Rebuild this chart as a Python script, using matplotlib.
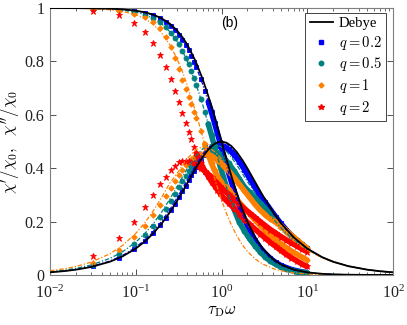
import matplotlib
matplotlib.use('Agg')
import matplotlib.pyplot as plt
import numpy as np
from matplotlib.lines import Line2D

plt.rcParams['font.family'] = ['Liberation Serif', 'DejaVu Serif']
plt.rcParams['mathtext.fontset'] = 'cm'

# ---------------- data ----------------
omega = [0.032, 0.064, 0.095, 0.127, 0.159, 0.191, 0.223, 0.255, 0.286, 0.318,
         0.350, 0.382, 0.414, 0.446, 0.477, 0.509, 0.573, 0.637, 0.700, 0.764,
         0.828, 0.891, 0.955, 1.05, 1.21, 1.40, 1.61, 1.85, 2.13, 2.45,
         2.82, 3.24, 3.72, 4.28, 4.92, 5.66, 6.51, 7.49, 8.61, 9.90]

blue_re = [0.999, 0.996, 0.990, 0.983, 0.973, 0.961, 0.948, 0.933, 0.917, 0.900,
           0.881, 0.861, 0.841, 0.820, 0.799, 0.778, 0.734, 0.691, 0.649, 0.609,
           0.570, 0.533, 0.499, 0.451, 0.383, 0.316, 0.259, 0.210, 0.167, 0.131,
           0.102, 0.080, 0.062, 0.047, 0.036, 0.028, 0.021, 0.016, 0.012, 0.009]
blue_im = [0.033, 0.065, 0.096, 0.127, 0.158, 0.187, 0.215, 0.242, 0.267, 0.291,
           0.314, 0.335, 0.355, 0.373, 0.388, 0.403, 0.429, 0.448, 0.463, 0.474,
           0.480, 0.484, 0.485, 0.483, 0.471, 0.451, 0.425, 0.395, 0.361, 0.328,
           0.294, 0.272, 0.245, 0.218, 0.193, 0.170, 0.149, 0.131, 0.115, 0.100]

teal_re = [0.998, 0.994, 0.986, 0.975, 0.962, 0.946, 0.928, 0.908, 0.887, 0.864,
           0.839, 0.814, 0.789, 0.763, 0.738, 0.712, 0.661, 0.612, 0.566, 0.523,
           0.483, 0.446, 0.412, 0.367, 0.304, 0.246, 0.198, 0.165, 0.135, 0.110,
           0.087, 0.067, 0.052, 0.040, 0.030, 0.023, 0.018, 0.013, 0.010, 0.008]
teal_im = [0.039, 0.078, 0.115, 0.150, 0.185, 0.218, 0.249, 0.278, 0.304, 0.329,
           0.351, 0.371, 0.389, 0.405, 0.418, 0.430, 0.447, 0.458, 0.463, 0.465,
           0.463, 0.458, 0.452, 0.441, 0.418, 0.390, 0.360, 0.330, 0.310, 0.290,
           0.270, 0.250, 0.228, 0.205, 0.185, 0.165, 0.147, 0.130, 0.115, 0.100]

orange_re = [0.997, 0.990, 0.978, 0.965, 0.948, 0.925, 0.893, 0.855, 0.812, 0.772,
             0.732, 0.697, 0.667, 0.640, 0.612, 0.589, 0.540, 0.490, 0.450, 0.418,
             0.392, 0.372, 0.356, 0.338, 0.322, 0.296, 0.272, 0.250, 0.228, 0.206,
             0.186, 0.166, 0.148, 0.132, 0.117, 0.103, 0.090, 0.078, 0.067, 0.057]
orange_im = [0.046, 0.094, 0.141, 0.185, 0.226, 0.262, 0.296, 0.326, 0.352, 0.375,
             0.395, 0.411, 0.424, 0.434, 0.442, 0.448, 0.454, 0.455, 0.452, 0.446,
             0.438, 0.430, 0.422, 0.410, 0.390, 0.365, 0.340, 0.315, 0.290, 0.265,
             0.243, 0.225, 0.210, 0.198, 0.184, 0.167, 0.150, 0.133, 0.117, 0.100]

red_re = [0.990, 0.974, 0.945, 0.909, 0.868, 0.824, 0.780, 0.734, 0.690, 0.649,
          0.608, 0.570, 0.537, 0.508, 0.480, 0.456, 0.420, 0.390, 0.370, 0.350,
          0.335, 0.320, 0.308, 0.290, 0.270, 0.250, 0.228, 0.208, 0.190, 0.172,
          0.155, 0.138, 0.122, 0.107, 0.092, 0.078, 0.065, 0.053, 0.042, 0.032]
red_im = [0.070, 0.137, 0.197, 0.253, 0.300, 0.340, 0.368, 0.393, 0.410, 0.422,
          0.427, 0.428, 0.426, 0.423, 0.418, 0.412, 0.400, 0.390, 0.378, 0.366,
          0.354, 0.343, 0.333, 0.320, 0.302, 0.283, 0.265, 0.248, 0.232, 0.216,
          0.200, 0.185, 0.170, 0.157, 0.144, 0.132, 0.120, 0.109, 0.098, 0.088]

fit_omega = [0.01, 0.015, 0.02, 0.03, 0.05, 0.07, 0.1, 0.13, 0.16, 0.2,
             0.25, 0.3, 0.35, 0.4, 0.5, 0.6, 0.7, 0.8, 0.9, 1.0,
             1.15, 1.3, 1.5, 1.75, 2.0, 2.5, 3.0, 4.0, 5.0, 7.0,
             10, 15, 20, 30, 50, 70, 100]

debye_re = [0.9999, 0.9998, 0.9996, 0.9991, 0.9975, 0.9951, 0.9901, 0.9834, 0.9750, 0.9615,
            0.9412, 0.9174, 0.8909, 0.8621, 0.8000, 0.7353, 0.6711, 0.6098, 0.5525, 0.5000,
            0.4306, 0.3717, 0.3077, 0.2462, 0.2000, 0.1379, 0.1000, 0.0588, 0.0385, 0.0200,
            0.0099, 0.0044, 0.0025, 0.0011, 0.0004, 0.0002, 0.0001]
debye_im = [0.0100, 0.0150, 0.0200, 0.0300, 0.0499, 0.0697, 0.0990, 0.1278, 0.1560, 0.1923,
            0.2353, 0.2752, 0.3118, 0.3448, 0.4000, 0.4412, 0.4698, 0.4878, 0.4972, 0.5000,
            0.4952, 0.4833, 0.4615, 0.4308, 0.4000, 0.3448, 0.3000, 0.2353, 0.1923, 0.1400,
            0.0990, 0.0664, 0.0499, 0.0333, 0.0200, 0.0143, 0.0100]

blue_fit_re = [0.9999, 0.9998, 0.9996, 0.999, 0.9973, 0.9946, 0.9891, 0.9817, 0.9725, 0.9578,
               0.9355, 0.9097, 0.881, 0.85, 0.784, 0.7159, 0.6493, 0.5863, 0.5283, 0.4756,
               0.4068, 0.3492, 0.2873, 0.2285, 0.1848, 0.1267, 0.0916, 0.0537, 0.035, 0.0182,
               0.009, 0.004, 0.0023, 0.001, 0.0004, 0.0002, 0.0001]
blue_fit_im = [0.0105, 0.0157, 0.021, 0.0315, 0.0524, 0.0731, 0.1039, 0.134, 0.1634, 0.2011,
               0.2456, 0.2866, 0.3238, 0.357, 0.4116, 0.451, 0.4772, 0.4925, 0.4993, 0.4994,
               0.4912, 0.4767, 0.4525, 0.4199, 0.3882, 0.3326, 0.2885, 0.23, 0.19, 0.138,
               0.098, 0.066, 0.0499, 0.0333, 0.02, 0.0143, 0.01]

teal_fit_re = [0.9998, 0.9996, 0.9994, 0.9986, 0.9961, 0.9924, 0.9846, 0.9743, 0.9615, 0.9412,
               0.911, 0.8767, 0.8393, 0.8, 0.719, 0.64, 0.5664, 0.5, 0.4414, 0.3902,
               0.3261, 0.2747, 0.2214, 0.1728, 0.1379, 0.0929, 0.0664, 0.0385, 0.025, 0.0129,
               0.0064, 0.0028, 0.0016, 0.0007, 0.0003, 0.0001, 0.0001]
teal_fit_im = [0.0125, 0.0187, 0.025, 0.0374, 0.0623, 0.0868, 0.1231, 0.1583, 0.1923, 0.2353,
               0.2847, 0.3288, 0.3672, 0.4, 0.445, 0.472, 0.486, 0.49, 0.487, 0.479,
               0.462, 0.442, 0.413, 0.38, 0.35, 0.305, 0.262, 0.21, 0.175, 0.13,
               0.095, 0.065, 0.049, 0.033, 0.02, 0.0143, 0.01]

orange_fit_re = [0.9997, 0.9994, 0.999, 0.9977, 0.9936, 0.9876, 0.975, 0.9586, 0.9385, 0.9071,
                 0.8621, 0.8127, 0.7613, 0.7094, 0.6098, 0.5204, 0.4436, 0.379, 0.3254, 0.2809,
                 0.228, 0.1878, 0.1479, 0.1131, 0.089, 0.0588, 0.0416, 0.0238, 0.0154, 0.0079,
                 0.0039, 0.0017, 0.001, 0.0004, 0.0002, 0.0001, 0.0]
orange_fit_im = [0.016, 0.024, 0.032, 0.0479, 0.0795, 0.1106, 0.156, 0.1994, 0.2403, 0.2903,
                 0.3448, 0.378, 0.41, 0.437, 0.469, 0.48, 0.477, 0.466, 0.452, 0.435,
                 0.408, 0.383, 0.352, 0.322, 0.3, 0.26, 0.232, 0.195, 0.165, 0.127,
                 0.093, 0.064, 0.049, 0.033, 0.02, 0.0143, 0.01]

labels = [r'$q=0.2$', r'$q=0.5$', r'$q=1$', r'$q=2$']
colors = ['#0000FF', '#008080', '#FF8000', '#FF0000']
markers = ['s', 'o', 'D', '*']
msizes = [3.0, 3.6, 2.8, 4.6]
band_from = [0.7, 0.7, 0.6, 0.5]

# ---------------- figure ----------------
fig = plt.figure(figsize=(4.07, 3.25), dpi=100)
ax = fig.add_axes([0.1229, 0.1538, 0.8428, 0.8215])
ax.set_xscale('log')

om = np.array(omega)
data = [(blue_re, blue_im), (teal_re, teal_im), (orange_re, orange_im), (red_re, red_im)]
fits = [(blue_fit_re, blue_fit_im), (teal_fit_re, teal_fit_im), (orange_fit_re, orange_fit_im)]

for i, (re, im) in enumerate(data):
    c = colors[i]
    m = om >= band_from[i]
    for arr in (re, im):
        a = np.array(arr)
        ax.plot(om[m], a[m], '-', color=c, lw=4.0, solid_capstyle='round',
                solid_joinstyle='round', zorder=2 + i * 0.1)
        ax.plot(om, a, ls='none', marker=markers[i], ms=msizes[i], color=c,
                mec=c, mew=0.6, zorder=2.05 + i * 0.1)

for i, (fre, fim) in enumerate(fits):
    for arr in (fre, fim):
        ax.plot(fit_omega, arr, color=colors[i], lw=0.9,
                ls=(0, (3.5, 1.5, 1, 1.5)), zorder=3)

ax.plot(fit_omega, debye_re, color='black', lw=1.3, zorder=4)
ax.plot(fit_omega, debye_im, color='black', lw=1.3, zorder=4)

ax.set_xlim(1e-2, 1e2)
ax.set_ylim(0, 1)
ax.set_yticks([0, 0.2, 0.4, 0.6, 0.8, 1])
ax.set_yticklabels(['0', '0.2', '0.4', '0.6', '0.8', '1'])
ax.tick_params(which='both', direction='in', top=True, right=True,
               labelsize=11.5, colors='#333333', labelcolor='#222222')
ax.tick_params(axis='x', which='major', pad=7)
ax.tick_params(axis='y', which='major', pad=4)
ax.tick_params(which='major', length=4, width=0.6)
ax.tick_params(which='minor', length=2, width=0.5)
for s in ax.spines.values():
    s.set_color('#7f7f7f')
    s.set_linewidth(0.8)

ax.set_xlabel(r'$\tau_{\rm D}\omega$', fontsize=12, labelpad=1)
ax.set_ylabel(r"$\chi'/\chi_0,\ \ \chi''/\chi_0$", fontsize=12, labelpad=1)

ax.text(0.525, 0.944, '(b)', transform=ax.transAxes, ha='center', va='center',
        fontsize=10, family='Liberation Sans')

handles = [Line2D([], [], color='black', lw=1.3)]
for i in range(4):
    handles.append(Line2D([], [], ls='none', marker=markers[i], ms=msizes[i] * 0.9,
                          color=colors[i], mec=colors[i]))
leg = ax.legend(handles, ['Debye'] + labels, loc='upper right',
                bbox_to_anchor=(0.98, 0.983), fontsize=10.5, fancybox=False,
                edgecolor='#444444', framealpha=1, borderpad=0.3,
                handlelength=1.6, handletextpad=0.4, labelspacing=0.25,
                borderaxespad=0.0)
leg.get_frame().set_linewidth(0.7)
leg.set_zorder(10)

fig.savefig('out.png', dpi=100)
